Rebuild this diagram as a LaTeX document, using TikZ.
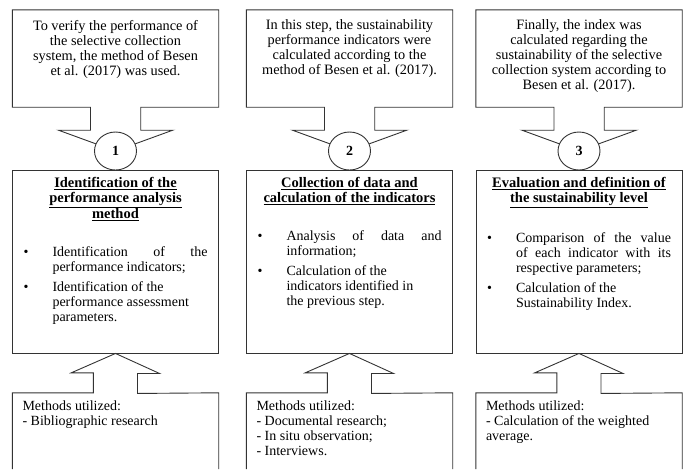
\documentclass[tikz,border=0pt]{standalone}
\usepackage{fontspec}
\setmainfont{Liberation Serif}
\usepackage{enumitem}
\usetikzlibrary{positioning, calc, shapes.geometric}

\newcommand{\bodysize}{\fontsize{14}{15}\selectfont}
\newcommand{\headsize}{\fontsize{14.5}{14.5}\selectfont}

\begin{document}
\begin{tikzpicture}[
    x=1pt, y=-1pt,
    outline/.style={draw=black!80, line width=0.9pt},
    box/.style={minimum width=206pt, inner sep=0pt},
    aimtext/.style={align=center, inner sep=0pt, font=\fontsize{14.3}{15}\selectfont},
    titletext/.style={align=center, inner sep=0pt, font=\headsize\bfseries},
    tasktext/.style={text width=184pt, align=justify, inner sep=0pt, font=\bodysize},
    tooltext/.style={align=left, inner sep=0pt, font=\bodysize},
    stepnum/.style={ellipse, outline, fill=white, minimum width=42pt,
        minimum height=38pt, inner sep=0pt, font=\bodysize\bfseries}
]
    \useasboundingbox (0,0) rectangle (688,469);
    \setlist[itemize]{label=\textbullet, leftmargin=29pt, labelwidth=10pt,
        labelsep=19pt, align=left, itemsep=5pt, topsep=0pt, parsep=0pt, partopsep=0pt}

    % Box frames: top (aim), middle (step), bottom (methods)
    \node[box, minimum height=97pt]  (top1) at (115.5, 58.5)  {};
    \node[box, minimum height=97pt]  (top2) at (349.5, 58.5)  {};
    \node[box, minimum height=97pt]  (top3) at (579,   58.5)  {};
    \node[box, minimum height=183pt, outline] (mid1) at (115.5, 261.5) {};
    \node[box, minimum height=183pt, outline] (mid2) at (349.5, 261.5) {};
    \node[box, minimum height=183pt, outline] (mid3) at (579,   261.5) {};
    \node[box, minimum height=76pt]  (bot1) at (115.5, 431) {};
    \node[box, minimum height=76pt]  (bot2) at (349.5, 431) {};
    \node[box, minimum height=76pt]  (bot3) at (579,   431) {};

    % Step numbers
    \coordinate (tip1) at (115.5, 151);
    \coordinate (tip2) at (349.5, 151);
    \coordinate (tip3) at (579,   151);

    % Callouts pointing down to the step numbers
    \draw[outline] (top1.south west) -- (top1.north west) -- (top1.north east)
        -- (top1.south east) -- ++(-78,0) -- ++(0,23) -- ++(32,0) -- (tip1)
        -- ($(top1.south)+(-57,23)$) -- ++(32,0) -- ++(0,-23) -- cycle;
    \draw[outline] (top2.south west) -- (top2.north west) -- (top2.north east)
        -- (top2.south east) -- ++(-78,0) -- ++(0,23) -- ++(32,0) -- (tip2)
        -- ($(top2.south)+(-57,23)$) -- ++(32,0) -- ++(0,-23) -- cycle;
    \draw[outline] (top3.south west) -- (top3.north west) -- (top3.north east)
        -- (top3.south east) -- ++(-78,0) -- ++(0,23) -- ++(32,0) -- (tip3)
        -- ($(top3.south)+(-57,23)$) -- ++(32,0) -- ++(0,-23) -- cycle;

    % Callouts pointing up to the steps
    \draw[outline] (bot1.south west) -- (bot1.north west) -- ++(81,0) -- ++(0,-20)
        -- ++(-22,0) -- (mid1.south) -- ++(44,20) -- ++(-22,0) -- ++(0,20)
        -- (bot1.north east) -- (bot1.south east);
    \draw[outline] (bot2.south west) -- (bot2.north west) -- ++(81,0) -- ++(0,-20)
        -- ++(-22,0) -- (mid2.south) -- ++(44,20) -- ++(-22,0) -- ++(0,20)
        -- (bot2.north east) -- (bot2.south east);
    \draw[outline] (bot3.south west) -- (bot3.north west) -- ++(81,0) -- ++(0,-20)
        -- ++(-22,0) -- (mid3.south) -- ++(44,20) -- ++(-22,0) -- ++(0,20)
        -- (bot3.north east) -- (bot3.south east);

    \node[stepnum] (num1) at (tip1) {1};
    \node[stepnum] (num2) at (tip2) {2};
    \node[stepnum] (num3) at (tip3) {3};

    % Aims
    \node[aimtext, anchor=north] (aim1) at ($(top1.north)+(0,10)$)
        {To verify the performance of\\ the selective collection\\
         system, the method of Besen\\ et al. (2017) was used.};
    \node[aimtext, anchor=north] (aim2) at ($(top2.north)+(0,10)$)
        {In this step, the sustainability\\ performance indicators were\\
         calculated according to the\\ method of Besen et al. (2017).};
    \node[aimtext, anchor=north] (aim3) at ($(top3.north)+(0,10)$)
        {Finally, the index was\\ calculated regarding the\\
         sustainability of the selective\\ collection system according to\\
         Besen et al. (2017).};

    % Steps
    \node[titletext, anchor=north] (title1) at ($(mid1.north)+(0,8)$)
        {\underline{Identification of the}\\ \underline{performance analysis}\\
         \underline{method}};
    \node[titletext, anchor=north] (title2) at ($(mid2.north)+(0,8)$)
        {\underline{Collection of data and}\\
         \underline{calculation of the indicators}};
    \node[titletext, anchor=north] (title3) at ($(mid3.north)+(0,8)$)
        {\underline{Evaluation and definition of}\\
         \underline{the sustainability level}};

    \node[tasktext, below=20pt of title1] (tasks1) {%
        \begin{itemize}
            \item Identification of the\linebreak performance indicators;
            \item Identification of the\newline performance assessment\newline parameters.
        \end{itemize}};
    \node[tasktext, below=20pt of title2] (tasks2) {%
        \begin{itemize}
            \item Analysis of data and\linebreak information;
            \item Calculation of the\newline indicators identified in\newline the previous step.
        \end{itemize}};
    \node[tasktext, below=20pt of title3] (tasks3) {%
        \begin{itemize}
            \item Comparison of the value\linebreak of each indicator with its\linebreak respective parameters;
            \item Calculation of the\newline Sustainability Index.
        \end{itemize}};

    % Methods
    \node[tooltext, anchor=north west] (tools1) at ($(bot1.north west)+(10,8)$)
        {Methods utilized:\\ - Bibliographic research};
    \node[tooltext, anchor=north west] (tools2) at ($(bot2.north west)+(10,8)$)
        {Methods utilized:\\ - Documental research;\\ - In situ observation;\\
         - Interviews.};
    \node[tooltext, anchor=north west] (tools3) at ($(bot3.north west)+(10,8)$)
        {Methods utilized:\\ - Calculation of the weighted\\ average.};
\end{tikzpicture}
\end{document}
